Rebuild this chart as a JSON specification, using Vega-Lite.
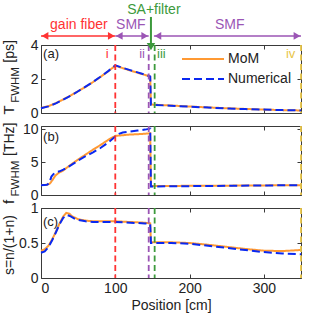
{
  "$schema": "https://vega.github.io/schema/vega-lite/v6.json",
  "background": "white",
  "padding": {"left": 1, "top": 2, "right": 5, "bottom": 2},
  "bounds": "flush",
  "spacing": 13,
  "config": {
    "font": "Liberation Sans",
    "view": {"stroke": "#3a3a3a", "strokeWidth": 1},
    "axis": {"domain": false, "grid": false, "tickColor": "#3a3a3a", "tickSize": -4, "labelFontSize": 14, "labelColor": "#222", "titleFontSize": 14, "titleFontWeight": "normal", "titleColor": "#222"}
  },
  "resolve": {"legend": {"color": "independent", "strokeDash": "independent"}},
  "datasets": {
    "a": [
      {"s":"MoM","pos":0,"val":0.30},{"s":"MoM","pos":10,"val":0.40},{"s":"MoM","pos":20,"val":0.58},{"s":"MoM","pos":30,"val":0.80},{"s":"MoM","pos":40,"val":1.03},{"s":"MoM","pos":50,"val":1.28},{"s":"MoM","pos":60,"val":1.54},{"s":"MoM","pos":70,"val":1.82},{"s":"MoM","pos":80,"val":2.12},{"s":"MoM","pos":90,"val":2.44},{"s":"MoM","pos":100,"val":2.78},{"s":"MoM","pos":110,"val":2.64},{"s":"MoM","pos":120,"val":2.50},{"s":"MoM","pos":130,"val":2.37},{"s":"MoM","pos":140,"val":2.24},{"s":"MoM","pos":147,"val":2.14},{"s":"MoM","pos":148,"val":0.50},{"s":"MoM","pos":175,"val":0.44},{"s":"MoM","pos":200,"val":0.38},{"s":"MoM","pos":225,"val":0.33},{"s":"MoM","pos":250,"val":0.28},{"s":"MoM","pos":275,"val":0.24},{"s":"MoM","pos":300,"val":0.20},{"s":"MoM","pos":325,"val":0.17},{"s":"MoM","pos":350,"val":0.15},
      {"s":"Numerical","pos":0,"val":0.28},{"s":"Numerical","pos":10,"val":0.39},{"s":"Numerical","pos":20,"val":0.57},{"s":"Numerical","pos":30,"val":0.79},{"s":"Numerical","pos":40,"val":1.02},{"s":"Numerical","pos":50,"val":1.28},{"s":"Numerical","pos":60,"val":1.55},{"s":"Numerical","pos":70,"val":1.83},{"s":"Numerical","pos":80,"val":2.13},{"s":"Numerical","pos":90,"val":2.45},{"s":"Numerical","pos":100,"val":2.80},{"s":"Numerical","pos":110,"val":2.66},{"s":"Numerical","pos":120,"val":2.52},{"s":"Numerical","pos":130,"val":2.39},{"s":"Numerical","pos":140,"val":2.26},{"s":"Numerical","pos":147,"val":2.15},{"s":"Numerical","pos":148,"val":0.48},{"s":"Numerical","pos":175,"val":0.43},{"s":"Numerical","pos":200,"val":0.37},{"s":"Numerical","pos":225,"val":0.32},{"s":"Numerical","pos":250,"val":0.27},{"s":"Numerical","pos":275,"val":0.23},{"s":"Numerical","pos":300,"val":0.20},{"s":"Numerical","pos":325,"val":0.17},{"s":"Numerical","pos":350,"val":0.15}
    ],
    "b": [
      {"s":"MoM","pos":0,"val":1.5},{"s":"MoM","pos":8,"val":1.55},{"s":"MoM","pos":12,"val":1.75},{"s":"MoM","pos":15,"val":2.2},{"s":"MoM","pos":19,"val":2.9},{"s":"MoM","pos":23,"val":3.3},{"s":"MoM","pos":30,"val":3.75},{"s":"MoM","pos":40,"val":4.6},{"s":"MoM","pos":50,"val":5.4},{"s":"MoM","pos":60,"val":6.15},{"s":"MoM","pos":70,"val":6.9},{"s":"MoM","pos":80,"val":7.6},{"s":"MoM","pos":90,"val":8.35},{"s":"MoM","pos":100,"val":9.0},{"s":"MoM","pos":110,"val":9.1},{"s":"MoM","pos":120,"val":9.2},{"s":"MoM","pos":130,"val":9.25},{"s":"MoM","pos":140,"val":9.32},{"s":"MoM","pos":147,"val":9.4},{"s":"MoM","pos":148,"val":1.35},{"s":"MoM","pos":200,"val":1.4},{"s":"MoM","pos":250,"val":1.42},{"s":"MoM","pos":300,"val":1.46},{"s":"MoM","pos":350,"val":1.5},
      {"s":"Numerical","pos":0,"val":1.5},{"s":"Numerical","pos":8,"val":1.55},{"s":"Numerical","pos":11,"val":1.8},{"s":"Numerical","pos":14,"val":2.8},{"s":"Numerical","pos":17,"val":3.2},{"s":"Numerical","pos":21,"val":3.5},{"s":"Numerical","pos":25,"val":3.6},{"s":"Numerical","pos":30,"val":3.85},{"s":"Numerical","pos":40,"val":4.5},{"s":"Numerical","pos":50,"val":5.25},{"s":"Numerical","pos":60,"val":5.9},{"s":"Numerical","pos":70,"val":6.5},{"s":"Numerical","pos":80,"val":7.15},{"s":"Numerical","pos":90,"val":7.95},{"s":"Numerical","pos":100,"val":8.9},{"s":"Numerical","pos":105,"val":9.3},{"s":"Numerical","pos":110,"val":9.5},{"s":"Numerical","pos":120,"val":9.65},{"s":"Numerical","pos":130,"val":9.8},{"s":"Numerical","pos":140,"val":9.95},{"s":"Numerical","pos":147,"val":10.1},{"s":"Numerical","pos":148,"val":1.3},{"s":"Numerical","pos":200,"val":1.35},{"s":"Numerical","pos":250,"val":1.4},{"s":"Numerical","pos":300,"val":1.45},{"s":"Numerical","pos":350,"val":1.5}
    ],
    "c": [
      {"s":"MoM","pos":0,"val":0.39},{"s":"MoM","pos":5,"val":0.41},{"s":"MoM","pos":10,"val":0.46},{"s":"MoM","pos":15,"val":0.55},{"s":"MoM","pos":20,"val":0.66},{"s":"MoM","pos":25,"val":0.78},{"s":"MoM","pos":30,"val":0.88},{"s":"MoM","pos":34,"val":0.93},{"s":"MoM","pos":38,"val":0.92},{"s":"MoM","pos":42,"val":0.88},{"s":"MoM","pos":50,"val":0.84},{"s":"MoM","pos":60,"val":0.82},{"s":"MoM","pos":70,"val":0.81},{"s":"MoM","pos":80,"val":0.81},{"s":"MoM","pos":100,"val":0.81},{"s":"MoM","pos":120,"val":0.80},{"s":"MoM","pos":140,"val":0.79},{"s":"MoM","pos":147,"val":0.78},{"s":"MoM","pos":148,"val":0.51},{"s":"MoM","pos":175,"val":0.51},{"s":"MoM","pos":200,"val":0.50},{"s":"MoM","pos":225,"val":0.475},{"s":"MoM","pos":250,"val":0.445},{"s":"MoM","pos":275,"val":0.415},{"s":"MoM","pos":300,"val":0.39},{"s":"MoM","pos":325,"val":0.385},{"s":"MoM","pos":350,"val":0.40},
      {"s":"Numerical","pos":0,"val":0.36},{"s":"Numerical","pos":5,"val":0.38},{"s":"Numerical","pos":10,"val":0.44},{"s":"Numerical","pos":15,"val":0.54},{"s":"Numerical","pos":20,"val":0.65},{"s":"Numerical","pos":25,"val":0.77},{"s":"Numerical","pos":30,"val":0.86},{"s":"Numerical","pos":35,"val":0.90},{"s":"Numerical","pos":40,"val":0.88},{"s":"Numerical","pos":45,"val":0.85},{"s":"Numerical","pos":50,"val":0.83},{"s":"Numerical","pos":60,"val":0.81},{"s":"Numerical","pos":70,"val":0.80},{"s":"Numerical","pos":100,"val":0.80},{"s":"Numerical","pos":120,"val":0.79},{"s":"Numerical","pos":140,"val":0.78},{"s":"Numerical","pos":147,"val":0.77},{"s":"Numerical","pos":148,"val":0.50},{"s":"Numerical","pos":175,"val":0.50},{"s":"Numerical","pos":200,"val":0.49},{"s":"Numerical","pos":225,"val":0.46},{"s":"Numerical","pos":250,"val":0.43},{"s":"Numerical","pos":275,"val":0.40},{"s":"Numerical","pos":300,"val":0.37},{"s":"Numerical","pos":325,"val":0.35},{"s":"Numerical","pos":350,"val":0.34}
    ],
    "vl": [{"pos":100,"reg":"gain"},{"pos":145,"reg":"smf"},{"pos":153,"reg":"sa"},{"pos":350,"reg":"out"}],
    "num": [{"pos":89,"txt":"i","reg":"gain"},{"pos":136,"txt":"ii","reg":"smf"},{"pos":162,"txt":"iii","reg":"sa"},{"pos":336,"txt":"iv","reg":"out"}],
    "arr": [{"x1":0,"x2":100,"reg":"gain"},{"x1":100,"x2":145,"reg":"smf"},{"x1":152,"x2":350,"reg":"smf"}],
    "lab": [{"pos":51,"txt":"gain fiber","reg":"gain"},{"pos":121,"txt":"SMF","reg":"smf"},{"pos":254,"txt":"SMF","reg":"smf"}]
  },
  "vconcat": [
    {
      "width": 260, "height": 68,
      "resolve": {"axis": {"x": "independent", "y": "independent"}},
      "layer": [
        {"data": {"name": "a"}, "mark": {"type": "line", "strokeWidth": 2},
         "encoding": {
           "x": {"field": "pos", "type": "quantitative", "title": null, "scale": {"domain": [0, 350]}, "axis": {"labels": false, "values": [0, 100, 200, 300]}},
           "y": {"field": "val", "type": "quantitative", "title": null, "scale": {"domain": [0, 4]}, "axis": {"values": [0, 2, 4], "labelPadding": 7}},
           "color": {"field": "s", "type": "nominal", "title": null, "scale": {"domain": ["MoM", "Numerical"], "range": ["#FF9933", "#0A28F0"]},
             "legend": {"orient": "none", "legendX": 140, "legendY": 4, "title": null, "symbolType": "stroke", "symbolSize": 1764, "symbolStrokeWidth": 2, "labelFontSize": 14, "labelOffset": 3, "clipHeight": 20, "rowPadding": 0, "labelColor": "#222", "padding": 0}},
           "strokeDash": {"field": "s", "type": "nominal", "title": null, "scale": {"domain": ["MoM", "Numerical"], "range": [[1, 0], [8, 4]]},
             "legend": {"orient": "none", "legendX": 140, "legendY": 4, "title": null, "symbolType": "stroke", "symbolSize": 1764, "symbolStrokeWidth": 2, "labelFontSize": 14, "labelOffset": 3, "clipHeight": 20, "rowPadding": 0, "labelColor": "#222", "padding": 0}}
         }},
        {"data": {"name": "vl"}, "mark": {"type": "rule", "strokeDash": [6, 3.5], "strokeWidth": 1.8},
         "encoding": {"x": {"field": "pos", "type": "quantitative", "title": null, "scale": {"domain": [0, 350]}, "axis": {"orient": "top", "labels": false, "values": [0, 100, 200, 300]}},
           "stroke": {"field": "reg", "type": "nominal", "legend": null, "scale": {"domain": ["gain", "smf", "sa", "out"], "range": ["#FF3333", "#9B55B5", "#3C9A3C", "#E8C547"]}}}},
        {"data": {"name": "num"}, "mark": {"type": "text", "fontSize": 13},
         "encoding": {"x": {"field": "pos", "type": "quantitative", "axis": null, "scale": {"domain": [0, 350]}},
           "y": {"datum": 3.5, "type": "quantitative", "axis": null, "scale": {"domain": [0, 4]}},
           "text": {"field": "txt"},
           "fill": {"field": "reg", "type": "nominal", "legend": null, "scale": {"domain": ["gain", "smf", "sa", "out"], "range": ["#FF3333", "#9B55B5", "#3C9A3C", "#E8C547"]}}}},
        {"data": {"name": "arr"}, "mark": {"type": "rule", "strokeWidth": 1.5},
         "encoding": {"x": {"field": "x1", "type": "quantitative", "axis": null, "scale": {"domain": [0, 350]}}, "x2": {"field": "x2"},
           "y": {"datum": 4.53, "type": "quantitative", "axis": null, "scale": {"domain": [0, 4]}},
           "stroke": {"field": "reg", "type": "nominal", "legend": null, "scale": {"domain": ["gain", "smf", "sa", "out"], "range": ["#FF3333", "#9B55B5", "#3C9A3C", "#E8C547"]}}}},
        {"data": {"name": "arr"}, "mark": {"type": "point", "shape": "triangle-left", "filled": true, "size": 60, "xOffset": 4, "opacity": 1},
         "encoding": {"x": {"field": "x1", "type": "quantitative", "axis": null, "scale": {"domain": [0, 350]}},
           "y": {"datum": 4.53, "type": "quantitative", "axis": null, "scale": {"domain": [0, 4]}},
           "fill": {"field": "reg", "type": "nominal", "legend": null, "scale": {"domain": ["gain", "smf", "sa", "out"], "range": ["#FF3333", "#9B55B5", "#3C9A3C", "#E8C547"]}}}},
        {"data": {"name": "arr"}, "mark": {"type": "point", "shape": "triangle-right", "filled": true, "size": 60, "xOffset": -4, "opacity": 1},
         "encoding": {"x": {"field": "x2", "type": "quantitative", "axis": null, "scale": {"domain": [0, 350]}},
           "y": {"datum": 4.53, "type": "quantitative", "axis": null, "scale": {"domain": [0, 4]}},
           "fill": {"field": "reg", "type": "nominal", "legend": null, "scale": {"domain": ["gain", "smf", "sa", "out"], "range": ["#FF3333", "#9B55B5", "#3C9A3C", "#E8C547"]}}}},
        {"data": {"name": "lab"}, "mark": {"type": "text", "fontSize": 14},
         "encoding": {"x": {"field": "pos", "type": "quantitative", "axis": null, "scale": {"domain": [0, 350]}},
           "y": {"datum": 5.18, "type": "quantitative", "axis": null, "scale": {"domain": [0, 4]}},
           "text": {"field": "txt"},
           "fill": {"field": "reg", "type": "nominal", "legend": null, "scale": {"domain": ["gain", "smf", "sa", "out"], "range": ["#FF3333", "#9B55B5", "#3C9A3C", "#E8C547"]}}}},
        {"data": {"values": [{}]}, "mark": {"type": "text", "text": "SA+filter", "fontSize": 14, "fill": "#3C9A3C"},
         "encoding": {"x": {"datum": 152, "type": "quantitative", "axis": null, "scale": {"domain": [0, 350]}}, "y": {"datum": 6.06, "type": "quantitative", "axis": null, "scale": {"domain": [0, 4]}}}},
        {"data": {"values": [{}]}, "mark": {"type": "rule", "stroke": "#3C9A3C", "strokeWidth": 2},
         "encoding": {"x": {"datum": 148, "type": "quantitative", "axis": null, "scale": {"domain": [0, 350]}}, "y": {"datum": 5.65, "type": "quantitative", "axis": null, "scale": {"domain": [0, 4]}}, "y2": {"datum": 4.0}}},
        {"data": {"values": [{}]}, "mark": {"type": "point", "shape": "triangle-down", "filled": true, "size": 70, "fill": "#3C9A3C", "opacity": 1},
         "encoding": {"x": {"datum": 148, "type": "quantitative", "axis": null, "scale": {"domain": [0, 350]}}, "y": {"datum": 3.9, "type": "quantitative", "axis": null, "scale": {"domain": [0, 4]}}}},
        {"data": {"values": [{}]}, "mark": {"type": "text", "text": "(a)", "fontSize": 13, "fill": "#222"},
         "encoding": {"x": {"datum": 13.5, "type": "quantitative", "axis": null, "scale": {"domain": [0, 350]}}, "y": {"datum": 3.5, "type": "quantitative", "title": null, "scale": {"domain": [0, 4]}, "axis": {"orient": "right", "labels": false, "values": [0, 2, 4]}}}},
        {"data": {"values": [{}]}, "mark": {"type": "text", "text": "T", "fontSize": 15, "fill": "#222", "angle": 270, "baseline": "alphabetic", "align": "center"},
         "encoding": {"x": {"datum": -35.7, "type": "quantitative", "axis": null, "scale": {"domain": [0, 350]}}, "y": {"datum": 0.18, "type": "quantitative", "axis": null, "scale": {"domain": [0, 4]}}}},
        {"data": {"values": [{}]}, "mark": {"type": "text", "text": "FWHM", "fontSize": 11.5, "fill": "#222", "angle": 270, "baseline": "alphabetic", "align": "center"},
         "encoding": {"x": {"datum": -29.6, "type": "quantitative", "axis": null, "scale": {"domain": [0, 350]}}, "y": {"datum": 1.65, "type": "quantitative", "axis": null, "scale": {"domain": [0, 4]}}}},
        {"data": {"values": [{}]}, "mark": {"type": "text", "text": "[ps]", "fontSize": 14, "fill": "#222", "angle": 270, "baseline": "alphabetic", "align": "center"},
         "encoding": {"x": {"datum": -35.7, "type": "quantitative", "axis": null, "scale": {"domain": [0, 350]}}, "y": {"datum": 3.62, "type": "quantitative", "axis": null, "scale": {"domain": [0, 4]}}}}
      ]
    },
    {
      "width": 260, "height": 69,
      "resolve": {"axis": {"x": "independent", "y": "independent"}},
      "layer": [
        {"data": {"name": "b"}, "mark": {"type": "line", "strokeWidth": 2},
         "encoding": {
           "x": {"field": "pos", "type": "quantitative", "title": null, "scale": {"domain": [0, 350]}, "axis": {"labels": false, "values": [0, 100, 200, 300]}},
           "y": {"field": "val", "type": "quantitative", "title": null, "scale": {"domain": [0, 10.5]}, "axis": {"values": [0, 5, 10], "labelPadding": 7}},
           "color": {"field": "s", "type": "nominal", "legend": null, "scale": {"domain": ["MoM", "Numerical"], "range": ["#FF9933", "#0A28F0"]}},
           "strokeDash": {"field": "s", "type": "nominal", "legend": null, "scale": {"domain": ["MoM", "Numerical"], "range": [[1, 0], [8, 4]]}}
         }},
        {"data": {"name": "vl"}, "mark": {"type": "rule", "strokeDash": [6, 3.5], "strokeWidth": 1.8},
         "encoding": {"x": {"field": "pos", "type": "quantitative", "title": null, "scale": {"domain": [0, 350]}, "axis": {"orient": "top", "labels": false, "values": [0, 100, 200, 300]}},
           "stroke": {"field": "reg", "type": "nominal", "legend": null, "scale": {"domain": ["gain", "smf", "sa", "out"], "range": ["#FF3333", "#9B55B5", "#3C9A3C", "#E8C547"]}}}},
        {"data": {"values": [{}]}, "mark": {"type": "text", "text": "(b)", "fontSize": 13, "fill": "#222"},
         "encoding": {"x": {"datum": 13.5, "type": "quantitative", "axis": null, "scale": {"domain": [0, 350]}}, "y": {"datum": 8.8, "type": "quantitative", "title": null, "scale": {"domain": [0, 10.5]}, "axis": {"orient": "right", "labels": false, "values": [0, 5, 10]}}}},
        {"data": {"values": [{}]}, "mark": {"type": "text", "text": "f", "fontSize": 15, "fill": "#222", "angle": 270, "baseline": "alphabetic", "align": "center"},
         "encoding": {"x": {"datum": -35.7, "type": "quantitative", "axis": null, "scale": {"domain": [0, 350]}}, "y": {"datum": -1.06, "type": "quantitative", "axis": null, "scale": {"domain": [0, 10.5]}}}},
        {"data": {"values": [{}]}, "mark": {"type": "text", "text": "FWHM", "fontSize": 11.5, "fill": "#222", "angle": 270, "baseline": "alphabetic", "align": "center"},
         "encoding": {"x": {"datum": -29.6, "type": "quantitative", "axis": null, "scale": {"domain": [0, 350]}}, "y": {"datum": 2.5, "type": "quantitative", "axis": null, "scale": {"domain": [0, 10.5]}}}},
        {"data": {"values": [{}]}, "mark": {"type": "text", "text": "[THz]", "fontSize": 14, "fill": "#222", "angle": 270, "baseline": "alphabetic", "align": "center"},
         "encoding": {"x": {"datum": -35.7, "type": "quantitative", "axis": null, "scale": {"domain": [0, 350]}}, "y": {"datum": 8.48, "type": "quantitative", "axis": null, "scale": {"domain": [0, 10.5]}}}}
      ]
    },
    {
      "width": 260, "height": 70,
      "resolve": {"axis": {"x": "independent", "y": "independent"}},
      "layer": [
        {"data": {"name": "c"}, "mark": {"type": "line", "strokeWidth": 2},
         "encoding": {
           "x": {"field": "pos", "type": "quantitative", "scale": {"domain": [0, 350]}, "axis": {"title": "Position [cm]", "values": [0, 100, 200, 300], "labelPadding": 7, "titlePadding": 3}},
           "y": {"field": "val", "type": "quantitative", "title": null, "scale": {"domain": [0, 1]}, "axis": {"values": [0, 0.5, 1], "format": "~g", "labelPadding": 7}},
           "color": {"field": "s", "type": "nominal", "legend": null, "scale": {"domain": ["MoM", "Numerical"], "range": ["#FF9933", "#0A28F0"]}},
           "strokeDash": {"field": "s", "type": "nominal", "legend": null, "scale": {"domain": ["MoM", "Numerical"], "range": [[1, 0], [8, 4]]}}
         }},
        {"data": {"name": "vl"}, "mark": {"type": "rule", "strokeDash": [6, 3.5], "strokeWidth": 1.8},
         "encoding": {"x": {"field": "pos", "type": "quantitative", "title": null, "scale": {"domain": [0, 350]}, "axis": {"orient": "top", "labels": false, "values": [0, 100, 200, 300]}},
           "stroke": {"field": "reg", "type": "nominal", "legend": null, "scale": {"domain": ["gain", "smf", "sa", "out"], "range": ["#FF3333", "#9B55B5", "#3C9A3C", "#E8C547"]}}}},
        {"data": {"values": [{}]}, "mark": {"type": "text", "text": "(c)", "fontSize": 13, "fill": "#222"},
         "encoding": {"x": {"datum": 12.8, "type": "quantitative", "axis": null, "scale": {"domain": [0, 350]}}, "y": {"datum": 0.8, "type": "quantitative", "title": null, "scale": {"domain": [0, 1]}, "axis": {"orient": "right", "labels": false, "values": [0, 0.5, 1]}}}},
        {"data": {"values": [{}]}, "mark": {"type": "text", "text": "s=n/(1+n)", "fontSize": 14, "fill": "#222", "angle": 270, "baseline": "alphabetic", "align": "center"},
         "encoding": {"x": {"datum": -35.7, "type": "quantitative", "axis": null, "scale": {"domain": [0, 350]}}, "y": {"datum": 0.47, "type": "quantitative", "axis": null, "scale": {"domain": [0, 1]}}}}
      ]
    }
  ]
}
